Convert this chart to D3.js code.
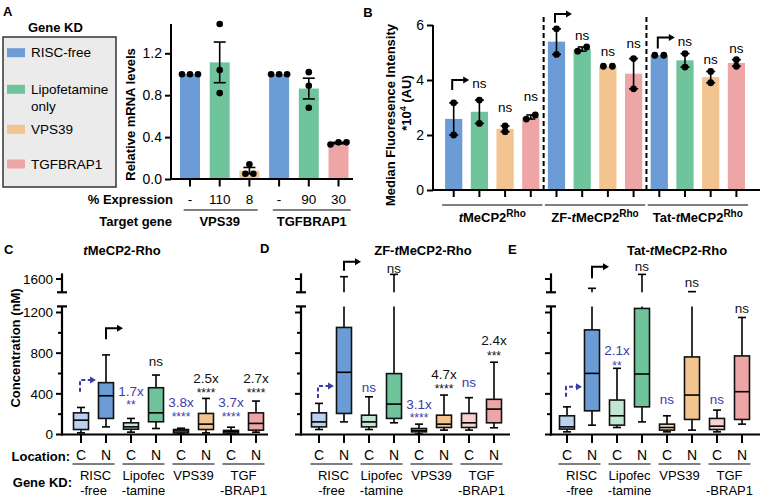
<!DOCTYPE html>
<html><head><meta charset="utf-8">
<script src="https://cdn.jsdelivr.net/npm/d3@7"></script>
<style>
html,body{margin:0;padding:0;background:#fff;}
svg{display:block;font-family:"Liberation Sans",Arial,Helvetica,sans-serif;}
</style></head><body>
<svg id="fig" width="762" height="498"></svg>
<script>
// ================= DATA =================
const kdNames = ["RISC-free", "Lipofetamine", "VPS39", "TGFBRAP1"];
const kdNameLine2 = ["", "only", "", ""];
const kdColors = ["#6c9cd6", "#6fc49b", "#f2c48f", "#eea5a5"];
const kdLight = ["#bad1ef", "#c1e6d1", "#f6dcbd", "#f8d0d0"];
const annBlue = "#3c3ca8";

// Panel A : relative mRNA levels
const aTargets = ["VPS39", "TGFBRAP1"];
const aBarKD = [0, 1, 2, 0, 1, 3];
const aExpression = ["-", "110", "8", "-", "90", "30"];
const aPoints = [
  [1.0, 1.0, 1.0], [1.48, 1.04, 0.82], [0.14, 0.05, 0.05],
  [1.0, 1.0, 1.0], [1.02, 0.89, 0.68], [0.35, 0.33, 0.35]
];
const aTicks = [0, 0.4, 0.8, 1.2];

// Panel B : median fluorescence intensity (*10^4 AU)
const bGroups = ["tMeCP2", "ZF-tMeCP2", "Tat-tMeCP2"];
const bPoints = [
  [3.17, 2.0], [3.27, 2.42], [2.33, 2.12], [2.58, 2.73],
  [5.86, 4.93], [5.05, 5.2], [4.5, 4.5], [4.78, 3.68],
  [4.9, 4.9], [4.96, 4.47], [4.31, 3.9], [4.74, 4.5]
];
const bTicks = [0, 2, 4, 6];
const bNsAt = [null, 3.82, 2.95, 3.35, null, 5.55, 4.99, 5.25, null, 5.33, 4.67, 5.09];
const bArrowAt = [[3.64, 4.0], [6.08, 6.4], [5.15, 5.55]];

// Panels C-E : concentration (nM) box plots  [whiskerLow, q1, median, q3, whiskerHigh]
const locations = ["C", "N"];
const kdGroupLabels = [["RISC", "-free"], ["Lipofec", "-tamine"], ["VPS39"], ["TGF", "-BRAP1"]];
const concTicks = [0, 400, 800, 1200];
const concMinor = [200, 600, 1000];
const concUpperTick = [1600];

const boxC = [
  [16, 49, 141, 213, 266], [75, 158, 381, 510, 783],
  [23, 52, 75, 115, 158], [59, 125, 213, 460, 585],
  [5, 16, 35, 49, 62], [16, 49, 102, 207, 355],
  [5, 15, 30, 40, 72], [23, 43, 109, 213, 329]
];
const boxD = [
  [49, 75, 124, 213, 306], [124, 207, 612, 1053, 1635],
  [49, 75, 124, 190, 371], [115, 158, 299, 599, 1670],
  [5, 26, 40, 59, 102], [43, 69, 102, 190, 388],
  [43, 69, 115, 207, 362], [66, 115, 250, 346, 711]
];
const boxE = [
  [26, 53, 75, 184, 272], [92, 233, 601, 1029, 1460],
  [69, 92, 184, 339, 651], [124, 272, 595, 1240, 1670],
  [26, 43, 69, 102, 184], [43, 148, 388, 763, 1410],
  [26, 49, 82, 158, 240], [102, 148, 421, 773, 1151]
];
const annC = [
  {i: 3, t: "ns", c: "k", v: 716},
  {i: 2, t: "1.7x", c: "b", v: 428}, {i: 2, t: "**", c: "b", v: 323, star: true},
  {i: 4, t: "3.8x", c: "b", v: 317}, {i: 4, t: "****", c: "b", v: 202, star: true},
  {i: 5, t: "2.5x", c: "k", v: 553}, {i: 5, t: "****", c: "k", v: 438, star: true},
  {i: 6, t: "3.7x", c: "b", v: 317}, {i: 6, t: "****", c: "b", v: 202, star: true},
  {i: 7, t: "2.7x", c: "k", v: 553}, {i: 7, t: "****", c: "k", v: 438, star: true}
];
const annD = [
  {i: 3, t: "ns", c: "k", v: 1635},
  {i: 2, t: "ns", c: "b", v: 460},
  {i: 4, t: "3.1x", c: "b", v: 297}, {i: 4, t: "****", c: "b", v: 192, star: true},
  {i: 5, t: "4.7x", c: "k", v: 595}, {i: 5, t: "****", c: "k", v: 477, star: true},
  {i: 6, t: "ns", c: "b", v: 513},
  {i: 7, t: "2.4x", c: "k", v: 923}, {i: 7, t: "***", c: "k", v: 805, star: true}
];
const annE = [
  {i: 3, t: "ns", c: "k", v: 1650},
  {i: 2, t: "2.1x", c: "b", v: 830}, {i: 2, t: "**", c: "b", v: 705, star: true},
  {i: 4, t: "ns", c: "b", v: 349},
  {i: 5, t: "ns", c: "k", v: 1493},
  {i: 6, t: "ns", c: "b", v: 349},
  {i: 7, t: "ns", c: "k", v: 1241}
];
const arrowsC = {blue: [421, 536], black: [936, 1045]};
const arrowsD = {blue: [359, 477], black: [1611, 1700]};
const arrowsE = {blue: [372, 470], black: [1536, 1650]};

// ================= HELPERS =================
const svg = d3.select("#fig");
function addText(g, x, y, str, o = {}) {
  const t = g.append("text").attr("x", x).attr("y", y).attr("dy", o.dy || "0.35em")
    .attr("font-size", o.size || 13).attr("font-weight", o.weight || "normal")
    .attr("text-anchor", o.anchor || "middle").attr("fill", o.fill || "#000");
  if (o.italic) t.attr("font-style", "italic");
  if (str !== null) t.text(str);
  if (o.rotate !== undefined) t.attr("transform", `rotate(${o.rotate},${x},${y})`);
  return t;
}
function line(g, x1, y1, x2, y2, w = 2, col = "#000", dash = null) {
  const l = g.append("line").attr("x1", x1).attr("y1", y1).attr("x2", x2).attr("y2", y2)
    .attr("stroke", col).attr("stroke-width", w);
  if (dash) l.attr("stroke-dasharray", dash);
  return l;
}
function swarmOffsets(vals, yScale, thresh, gap) {
  const idx = vals.map((v, i) => i).sort((a, b) => vals[a] - vals[b]);
  const offs = new Array(vals.length).fill(0);
  const clusters = []; let cur = [idx[0]];
  for (let k = 1; k < idx.length; k++) {
    if (Math.abs(yScale(vals[idx[k]]) - yScale(vals[cur[cur.length - 1]])) < thresh) cur.push(idx[k]);
    else { clusters.push(cur); cur = [idx[k]]; }
  }
  clusters.push(cur);
  clusters.forEach(c => c.forEach((j, m) => offs[j] = (m - (c.length - 1) / 2) * gap));
  return offs;
}
function sem(v) { return v.length > 1 ? (d3.deviation(v) || 0) / Math.sqrt(v.length) : 0; }
function tmecp2Label(g, x, y, prefix, suffixSuper, size, weight) {
  const t = addText(g, x, y, null, {size: size, weight: weight});
  t.append("tspan").text(prefix);
  t.append("tspan").attr("font-style", "italic").text("t");
  t.append("tspan").text("MeCP2");
  if (suffixSuper) {
    t.append("tspan").attr("dy", -5).attr("font-size", size - 3).text(suffixSuper);
  }
  return t;
}
function arrowHead(g, x, y, col) {
  g.append("path").attr("d", `M${x},${y} l-6,-3.5 l0,7 z`).attr("fill", col);
}

// ================= PANEL A =================
const gA = svg.append("g");
addText(gA, 3, 11.5, "A", {size: 13, weight: "bold", anchor: "start"});
addText(gA, 28, 27.5, "Gene KD", {size: 13, weight: "bold", anchor: "start"});
gA.append("rect").attr("x", 3).attr("y", 37).attr("width", 113).attr("height", 150)
  .attr("fill", "#ebebeb").attr("stroke", "#333").attr("stroke-width", 1.5);
const legTextY = [52.7, 89.3, 129.3, 164];
kdNames.forEach((n, i) => {
  gA.append("rect").attr("x", 7).attr("y", legTextY[i] - 4.5).attr("width", 18).attr("height", 9).attr("fill", kdColors[i]);
  addText(gA, 31, legTextY[i], n, {anchor: "start", size: 13.5});
  if (kdNameLine2[i]) addText(gA, 31, legTextY[i] + 16.5, kdNameLine2[i], {anchor: "start", size: 13.5});
});

const yA = d3.scaleLinear().domain([0, 1.2]).range([179, 53.3]);
const xA = d3.scaleBand().domain(d3.range(6)).range([171, 357.5]).paddingInner(0.327).paddingOuter(0.303);
const bwA = xA.bandwidth();
aPoints.forEach((pts, i) => {
  const m = d3.mean(pts);
  gA.append("rect").attr("x", xA(i)).attr("y", yA(m)).attr("width", bwA).attr("height", yA(0) - yA(m))
    .attr("fill", kdColors[aBarKD[i]]);
});
aPoints.forEach((pts, i) => {
  const m = d3.mean(pts), s = sem(pts), cx = xA(i) + bwA / 2;
  if (s > 0.005) {
    line(gA, cx, yA(m - s), cx, yA(m + s), 1.6);
    line(gA, cx - 6, yA(m + s), cx + 6, yA(m + s), 1.6);
    line(gA, cx - 6, yA(m - s), cx + 6, yA(m - s), 1.6);
  }
  const offs = swarmOffsets(pts, yA, 6, 8);
  pts.forEach((v, k) => gA.append("circle").attr("cx", cx + offs[k]).attr("cy", yA(v)).attr("r", 3.3).attr("fill", "#000"));
});
const axA = gA.append("g").attr("transform", "translate(171,0)")
  .call(d3.axisLeft(yA).tickValues(aTicks).tickFormat(d3.format(".1f")).tickSize(6).tickPadding(3));
axA.select(".domain").remove();
axA.selectAll("line").attr("stroke-width", 2);
axA.selectAll("text").attr("font-size", 14).attr("font-family", "Liberation Sans, Arial, sans-serif");
line(gA, 171, 180, 171, 24, 2);
line(gA, 170, 179, 353, 179, 2);
d3.range(6).forEach(i => line(gA, xA(i) + bwA / 2, 179, xA(i) + bwA / 2, 186.5, 2));
addText(gA, 130, 114.5, "Relative mRNA levels", {weight: "bold", rotate: -90});
addText(gA, 173, 199.3, "% Expression", {weight: "bold", anchor: "end"});
aExpression.forEach((e, i) => addText(gA, xA(i) + bwA / 2, 199.3, e, {size: 13.5}));
aTargets.forEach((t, gI) => {
  const c = xA(3 * gI + 1) + bwA / 2;
  line(gA, c - 36, 210, c + 38 + gI * 4, 210, 1.2);
  addText(gA, c + gI * 3, 221.5, t, {weight: "bold"});
});
addText(gA, 172, 221.5, "Target gene", {weight: "bold", anchor: "end"});

// ================= PANEL B =================
const gB = svg.append("g");
addText(gB, 368, 12, "B", {weight: "bold"});
const yB = d3.scaleLinear().domain([0, 6]).range([190, 25]);
const xB = d3.scaleBand().domain(d3.range(12)).range([433, 433 + 25.7 * 12.61]).paddingInner(0.33).paddingOuter(0.47);
const bwB = xB.bandwidth();
bPoints.forEach((pts, i) => {
  const m = d3.mean(pts);
  gB.append("rect").attr("x", xB(i)).attr("y", yB(m)).attr("width", bwB).attr("height", yB(0) - yB(m))
    .attr("fill", kdColors[i % 4]);
});
bPoints.forEach((pts, i) => {
  const m = d3.mean(pts), s = sem(pts), cx = xB(i) + bwB / 2;
  if (s > 0.01) {
    line(gB, cx, yB(m - s), cx, yB(m + s), 1.6);
    line(gB, cx - 4.5, yB(m + s), cx + 4.5, yB(m + s), 1.6);
    line(gB, cx - 4.5, yB(m - s), cx + 4.5, yB(m - s), 1.6);
  }
  const offs = swarmOffsets(pts, yB, 5.5, 9);
  pts.forEach((v, k) => gB.append("circle").attr("cx", cx + offs[k]).attr("cy", yB(v)).attr("r", 3.4).attr("fill", "#000"));
  if (bNsAt[i] !== null) addText(gB, cx, yB(bNsAt[i]) - 2, "ns", {size: 13.5});
});
[3, 7].forEach(k => {
  const xs = (xB(k) + bwB + xB(k + 1)) / 2;
  line(gB, xs, 190, xs, 14, 2, "#000", "5,3");
});
bArrowAt.forEach((a, gI) => {
  const cx = xB(4 * gI) + bwB / 2 - 1.5;
  gB.append("path").attr("d", `M${cx},${yB(a[0])} V${yB(a[1])} H${cx + 12}`)
    .attr("fill", "none").attr("stroke", "#000").attr("stroke-width", 2);
  arrowHead(gB, cx + 17, yB(a[1]), "#000");
});
const axB = gB.append("g").attr("transform", "translate(433,0)")
  .call(d3.axisLeft(yB).tickValues(bTicks).tickFormat(d3.format("d")).tickSize(6).tickPadding(3));
axB.select(".domain").remove();
axB.selectAll("line").attr("stroke-width", 2);
axB.selectAll("text").attr("font-size", 14).attr("font-family", "Liberation Sans, Arial, sans-serif");
line(gB, 433, 191, 433, 25, 2);
line(gB, 432, 190, 760, 190, 2);
d3.range(12).forEach(i => line(gB, xB(i) + bwB / 2, 190, xB(i) + bwB / 2, 197, 2));
bGroups.forEach((gname, gI) => {
  const x0 = xB(4 * gI) - 3, x1 = xB(4 * gI + 3) + bwB + 3;
  line(gB, x0, 205, x1, 205, 1.2);
  const prefix = gname.replace("tMeCP2", "");
  tmecp2Label(gB, (x0 + x1) / 2, 217.5, prefix, "Rho", 13, "bold");
});
addText(gB, 390, 115, "Median Fluoresence Intensity", {weight: "bold", rotate: -90});
const yl2 = addText(gB, 406, 103, null, {weight: "bold", rotate: -90});
yl2.append("tspan").text("*10");
yl2.append("tspan").attr("dy", -5).attr("font-size", 9).text("4");
yl2.append("tspan").attr("dy", 5).attr("font-size", 13).text(" (AU)");

// ================= PANELS C, D, E =================
const yLow = d3.scaleLinear().domain([0, 1260]).range([434.5, 306.4]);
const yUp = d3.scaleLinear().domain([1400, 1650]).range([292.3, 275.7]);

function boxPanel(cfg) {
  const g = svg.append("g");
  const ax = cfg.axisX;
  const x = d3.scalePoint().domain(d3.range(8)).range(cfg.centers);
  const w = 15;
  addText(g, cfg.letter[1], cfg.letter[2], cfg.letter[0], {weight: "bold", anchor: "start"});
  tmecp2Label(g, cfg.titleX, 250, cfg.titlePrefix, null, 13, "bold").append("tspan").text("-Rho");

  cfg.data.forEach((d, i) => {
    const [lo, q1, med, q3, hi] = d;
    const cx = x(i);
    const fill = (i % 2 === 0 ? kdLight : kdColors)[Math.floor(i / 2)];
    line(g, cx, yLow(q1), cx, yLow(lo), 1.6);
    line(g, cx - 4, yLow(lo), cx + 4, yLow(lo), 1.6);
    if (hi <= 1260) {
      line(g, cx, yLow(q3), cx, yLow(hi), 1.6);
      line(g, cx - 4, yLow(hi), cx + 4, yLow(hi), 1.6);
    } else {
      line(g, cx, yLow(q3), cx, yLow(1260), 1.6);
      line(g, cx, yUp(1400), cx, yUp(hi), 1.6);
      line(g, cx - 4, yUp(hi), cx + 4, yUp(hi), 1.6);
    }
    g.append("rect").attr("x", cx - w / 2).attr("y", yLow(q3)).attr("width", w)
      .attr("height", Math.max(0.5, yLow(q1) - yLow(q3)))
      .attr("fill", fill).attr("stroke", "#111").attr("stroke-width", 1.6);
    line(g, cx - w / 2, yLow(med), cx + w / 2, yLow(med), 1.6);
  });

  line(g, ax, yLow(0) + 1, ax, yLow(1260), 2.2);
  line(g, ax - 5, yLow(1260), ax + 5, yLow(1260), 2.2);
  line(g, ax, yUp(1400), ax, yUp(1685), 2.2);
  line(g, ax - 5, yUp(1400), ax + 5, yUp(1400), 2.2);
  concTicks.forEach(t => line(g, ax - 6, yLow(t), ax, yLow(t), 2));
  concMinor.forEach(t => line(g, ax - 4, yLow(t), ax, yLow(t), 2));
  concUpperTick.forEach(t => line(g, ax - 6, yUp(t), ax, yUp(t), 2));
  if (cfg.labels) {
    concTicks.forEach(t => addText(g, ax - 9, yLow(t), String(t), {anchor: "end", size: 13.5}));
    concUpperTick.forEach(t => addText(g, ax - 9, yUp(t), String(t), {anchor: "end", size: 13.5}));
    addText(g, 15, 348, "Concentration (nM)", {weight: "bold", rotate: -90});
    addText(g, 70, 456, "Location:", {weight: "bold", anchor: "end"});
    addText(g, 72, 482, "Gene KD:", {weight: "bold", anchor: "end"});
  }
  line(g, ax - 1, yLow(0), cfg.xEnd, yLow(0), 2.2);
  d3.range(8).forEach(i => {
    line(g, x(i), yLow(0), x(i), yLow(0) + 8.5, 2);
    addText(g, x(i), 455, locations[i % 2], {size: 14});
  });
  kdGroupLabels.forEach((lab, k) => {
    const c = (x(2 * k) + x(2 * k + 1)) / 2;
    line(g, c - 21, 464, c + 21, 464, 1.2);
    lab.forEach((s, r) => addText(g, c + (r === 0 && k === 0 ? 2 : 0), 475 + 15.5 * r, s));
  });

  cfg.ann.forEach(a => {
    const col = a.c === "b" ? annBlue : "#111";
    if (a.star) addText(g, x(a.i), yLow(a.v), a.t, {size: 12, fill: col, dy: "0.6em"});
    else addText(g, x(a.i), yLow(a.v), a.t, {size: 13.5, fill: col});
  });
  const bx = x(0) - 1;
  g.append("path").attr("d", `M${bx},${yLow(cfg.arrows.blue[0])} V${yLow(cfg.arrows.blue[1])} H${bx + 11}`)
    .attr("fill", "none").attr("stroke", annBlue).attr("stroke-width", 2).attr("stroke-dasharray", "4,2.5");
  arrowHead(g, bx + 16, yLow(cfg.arrows.blue[1]), annBlue);
  const kx = x(1);
  g.append("path").attr("d", `M${kx},${yLow(cfg.arrows.black[0])} V${yLow(cfg.arrows.black[1])} H${kx + 12}`)
    .attr("fill", "none").attr("stroke", "#000").attr("stroke-width", 2);
  arrowHead(g, kx + 17, yLow(cfg.arrows.black[1]), "#000");
}

boxPanel({letter: ["C", 4, 249], titleX: 122, titlePrefix: "", axisX: 62, centers: [81, 256], xEnd: 268,
  data: boxC, ann: annC, arrows: arrowsC, labels: true});
boxPanel({letter: ["D", 260, 248], titleX: 423, titlePrefix: "ZF-", axisX: 301, centers: [319, 494], xEnd: 510,
  data: boxD, ann: annD, arrows: arrowsD, labels: false});
boxPanel({letter: ["E", 508, 249], titleX: 677, titlePrefix: "Tat-", axisX: 551, centers: [567, 742], xEnd: 760,
  data: boxE, ann: annE, arrows: arrowsE, labels: false});
</script>
</body></html>
